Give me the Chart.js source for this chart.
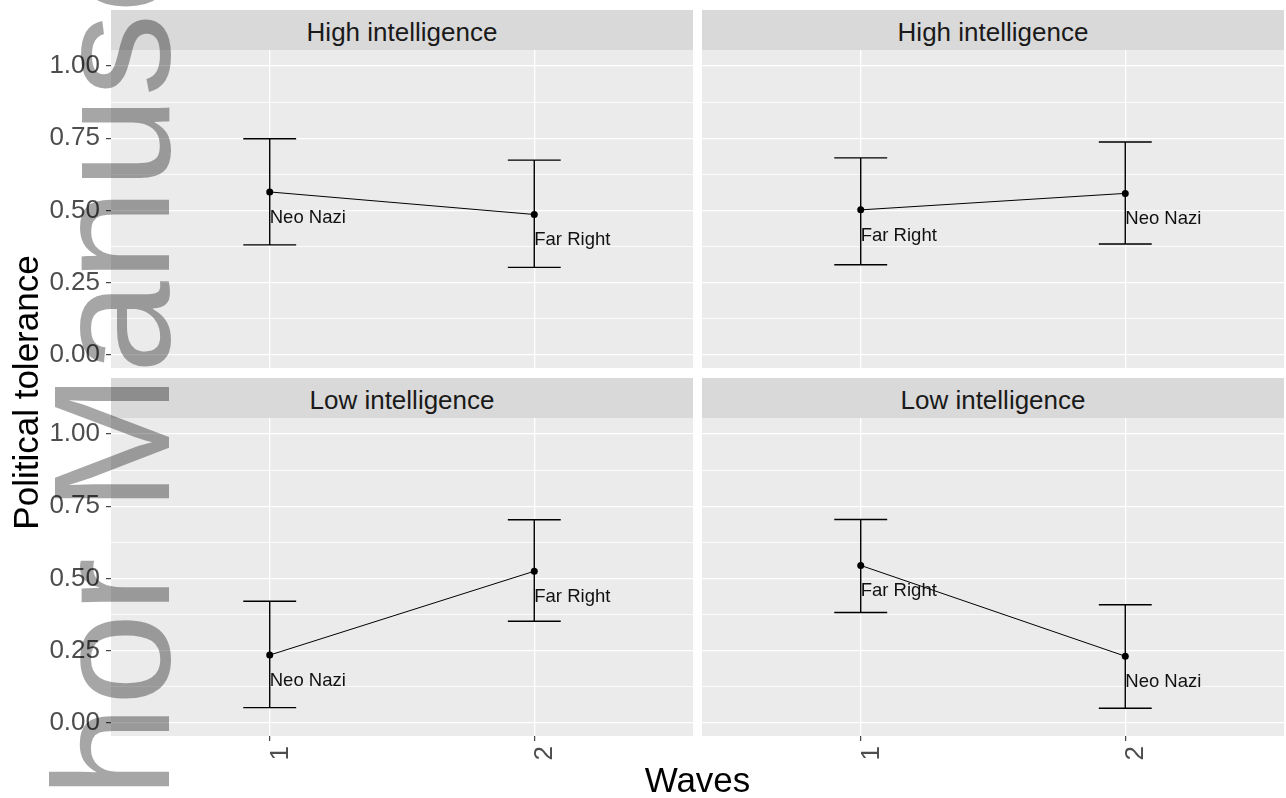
<!DOCTYPE html>
<html>
<head>
<meta charset="utf-8">
<title>Political tolerance by wave</title>
<script src="https://cdn.jsdelivr.net/npm/chart.js@4.4.1/dist/chart.umd.min.js"></script>
<style>
  body { margin:0; width:1286px; height:798px; overflow:hidden; position:relative; background:#fff;
         font-family:"Liberation Sans", Arial, sans-serif; }
  canvas { position:absolute; }
  .strip { position:absolute; width:582px; height:40px; background:#d9d9d9; color:#1a1a1a;
           font-size:26px; line-height:45px; text-align:center; }
  #xTitle { position:absolute; left:111px; width:1173px; top:762px; font-size:35px; line-height:35px;
            text-align:center; color:#000; }
  #yTitle { position:absolute; left:-175px; width:400px; top:375px; height:35px; font-size:35px; line-height:35px;
            text-align:center; color:#000; transform:rotate(-90deg); }
  #mark { position:absolute; left:29px; top:1047px; font-size:166px; line-height:166px; white-space:nowrap;
          color:rgba(0,0,0,0.35); transform-origin:0 0; transform:rotate(-90deg); pointer-events:none; }
</style>
</head>
<body>
<div class="strip" style="left:111px;top:10px">High intelligence</div>
<div class="strip" style="left:702px;top:10px">High intelligence</div>
<div class="strip" style="left:111px;top:378px">Low intelligence</div>
<div class="strip" style="left:702px;top:378px">Low intelligence</div>

<canvas id="cTL" width="693" height="318" style="left:0;top:50px"></canvas>
<canvas id="cTR" width="582" height="318" style="left:702px;top:50px"></canvas>
<canvas id="cBL" width="693" height="360" style="left:0;top:418px"></canvas>
<canvas id="cBR" width="582" height="360" style="left:702px;top:418px"></canvas>

<div id="xTitle">Waves</div>
<div id="yTitle">Political tolerance</div>
<div id="mark">Author Manuscript</div>

<script>
// ---------- Data ----------
const waves       = [1, 2];
const yMajor      = [0, 0.25, 0.5, 0.75, 1];
const yMinor      = [0.125, 0.375, 0.625, 0.875];
const yTickLabels = ['0.00', '0.25', '0.50', '0.75', '1.00'];

// high intelligence, left
const hlMean = [0.564, 0.486];
const hlLo   = [0.381, 0.303];
const hlHi   = [0.748, 0.674];
const hlLab  = ['Neo Nazi', 'Far Right'];

// high intelligence, right
const hrMean = [0.502, 0.559];
const hrLo   = [0.312, 0.384];
const hrHi   = [0.682, 0.737];
const hrLab  = ['Far Right', 'Neo Nazi'];

// low intelligence, left
const llMean = [0.235, 0.525];
const llLo   = [0.053, 0.352];
const llHi   = [0.421, 0.703];
const llLab  = ['Neo Nazi', 'Far Right'];

// low intelligence, right
const lrMean = [0.545, 0.231];
const lrLo   = [0.382, 0.051];
const lrHi   = [0.704, 0.409];
const lrLab  = ['Far Right', 'Neo Nazi'];

const FONT = '"Liberation Sans", Arial, sans-serif';
const yGrid = [...yMajor, ...yMinor].sort((a, b) => a - b);
const isMajor = v => yMajor.includes(v);

// ---------- Plugins ----------
const panelBg = {
  id: 'panelBg',
  beforeDraw(chart) {
    const { ctx, chartArea: a } = chart;
    ctx.save();
    ctx.fillStyle = '#ebebeb';
    ctx.fillRect(a.left, a.top, a.right - a.left, a.bottom - a.top);
    ctx.restore();
  }
};

const errorBars = {
  id: 'errorBars',
  afterDatasetsDraw(chart) {
    const { ctx, scales: { x, y } } = chart;
    const p = chart.options.plugins.errorBars;
    ctx.save();
    ctx.strokeStyle = '#000';
    ctx.lineWidth = 1.4;
    waves.forEach((w, i) => {
      const px = x.getPixelForValue(w);
      const x0 = x.getPixelForValue(w - 0.1), x1 = x.getPixelForValue(w + 0.1);
      const yl = y.getPixelForValue(p.lo[i]), yh = y.getPixelForValue(p.hi[i]);
      ctx.beginPath();
      ctx.moveTo(px, yl); ctx.lineTo(px, yh);
      ctx.moveTo(x0, yl); ctx.lineTo(x1, yl);
      ctx.moveTo(x0, yh); ctx.lineTo(x1, yh);
      ctx.stroke();
    });
    // group labels under each point
    ctx.fillStyle = '#111';
    ctx.font = `18.5px ${FONT}`;
    ctx.textAlign = 'left';
    ctx.textBaseline = 'alphabetic';
    waves.forEach((w, i) => {
      ctx.fillText(p.lab[i], x.getPixelForValue(w), y.getPixelForValue(p.mean[i]) + 31);
    });
    ctx.restore();
  }
};

// ---------- Panels ----------
function makePanel(id, mean, lo, hi, lab, left, bottom) {
  return new Chart(document.getElementById(id), {
    type: 'line',
    data: {
      datasets: [{
        data: waves.map((w, i) => ({ x: w, y: mean[i] })),
        borderColor: '#000', borderWidth: 1, tension: 0,
        pointRadius: 3.5, pointBackgroundColor: '#000', pointBorderWidth: 0
      }]
    },
    options: {
      responsive: false, animation: false, events: [],
      layout: { padding: 0, autoPadding: false },
      plugins: {
        legend: { display: false }, tooltip: { enabled: false },
        errorBars: { mean, lo, hi, lab }
      },
      scales: {
        x: {
          type: 'linear', min: 0.4, max: 2.6,
          afterBuildTicks: s => { s.ticks = waves.map(v => ({ value: v })); },
          afterFit: s => { s.height = bottom ? 42 : 0; s.paddingLeft = s.paddingRight = 0; },
          border: { display: false },
          grid: { color: '#fff', lineWidth: 1.3, drawTicks: bottom, tickLength: 5, tickColor: '#333', tickWidth: 1.1 },
          ticks: {
            display: bottom, autoSkip: false, minRotation: 90, maxRotation: 90,
            padding: 5, labelOffset: 11, color: '#4d4d4d',
            font: { size: 26, family: FONT, lineHeight: 1 },
            callback: v => String(v)
          }
        },
        y: {
          min: -0.045, max: 1.055,
          afterBuildTicks: s => { s.ticks = yGrid.map(v => ({ value: v })); },
          afterFit: s => { s.width = left ? 111 : 0; s.paddingTop = s.paddingBottom = 0; },
          border: { display: false },
          grid: {
            color: '#fff',
            lineWidth: c => isMajor(c.tick.value) ? 1.3 : 0.8,
            drawTicks: left, tickLength: 5, tickWidth: 1.1,
            tickColor: c => isMajor(c.tick.value) ? '#333' : 'rgba(0,0,0,0)'
          },
          ticks: {
            display: left, padding: 6, color: '#4d4d4d',
            font: { size: 26, family: FONT, lineHeight: 1 },
            callback: v => { const i = yMajor.indexOf(v); return i >= 0 ? yTickLabels[i] : ''; }
          }
        }
      }
    },
    plugins: [panelBg, errorBars]
  });
}

makePanel('cTL', hlMean, hlLo, hlHi, hlLab, true,  false);
makePanel('cTR', hrMean, hrLo, hrHi, hrLab, false, false);
makePanel('cBL', llMean, llLo, llHi, llLab, true,  true);
makePanel('cBR', lrMean, lrLo, lrHi, lrLab, false, true);
</script>
</body>
</html>
